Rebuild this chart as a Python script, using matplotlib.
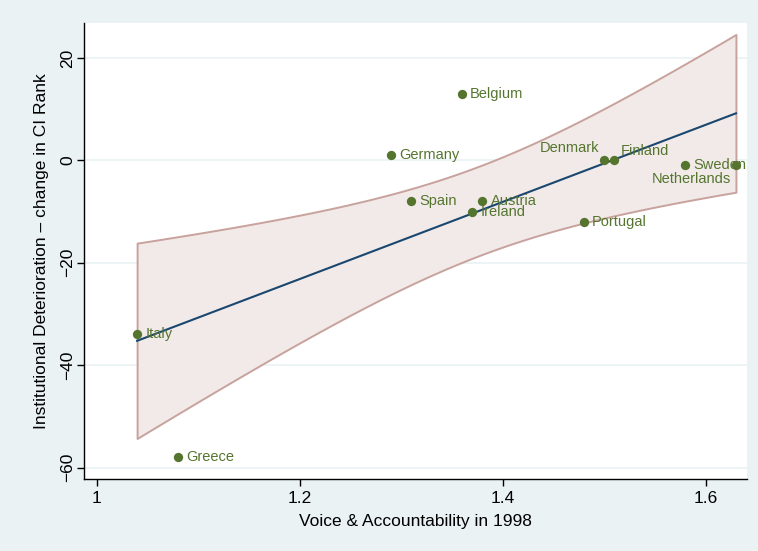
import numpy as np
import matplotlib.pyplot as plt

plt.rcParams['font.family'] = ['Liberation Sans', 'DejaVu Sans']

# Countries, voice & accountability score (1998) and change in CI rank
countries = ["Italy", "Greece", "Germany", "Belgium", "Spain", "Austria",
             "Ireland", "Portugal", "Denmark", "Finland", "Sweden", "Netherlands"]
voice = [1.04, 1.08, 1.29, 1.36, 1.31, 1.38, 1.37, 1.48, 1.50, 1.51, 1.58, 1.63]
rank_change = [-34, -58, 1, 13, -8, -8, -10, -12, 0, 0, -1, -1]
# clock position of each marker label
label_pos = [3, 3, 3, 3, 3, 3, 3, 3, 11, 1, 3, 7]

xticks = [1, 1.2, 1.4, 1.6]
xtick_labels = ["1", "1.2", "1.4", "1.6"]
yticks = [-60, -40, -20, 0, 20]

BG = "#EAF2F3"
NAVY = "#1A476F"
GREEN = "#55752F"
CI_FILL = "#F1EAE8"
CI_EDGE = "#C8A29D"

x = np.asarray(voice, float)
y = np.asarray(rank_change, float)

# linear fit with 95% confidence interval of the mean prediction
n = len(x)
slope, intercept = np.polyfit(x, y, 1)
resid = y - (intercept + slope * x)
s = np.sqrt(np.sum(resid ** 2) / (n - 2))
sxx = np.sum((x - x.mean()) ** 2)
t_crit = 2.228  # t(0.975, df=10)
xs = np.linspace(x.min(), x.max(), 200)
fit = intercept + slope * xs
half = t_crit * s * np.sqrt(1.0 / n + (xs - x.mean()) ** 2 / sxx)

fig = plt.figure(figsize=(7.58, 5.51), dpi=100, facecolor=BG)
ax = fig.add_axes([84 / 758, 1 - 479 / 551, (747 - 84) / 758, (479 - 23) / 551])
ax.set_facecolor("white")

ax.fill_between(xs, fit - half, fit + half, facecolor=CI_FILL,
                edgecolor=CI_EDGE, linewidth=1.4, zorder=2)
ax.plot(xs, fit, color=NAVY, lw=1.5, zorder=3)
ax.scatter(x, y, s=45, color=GREEN, zorder=4, linewidths=0)

offsets = {
    3: ((6, 0), "left", "center"),
    11: ((-3.5, 9), "right", "center"),
    1: ((5, 6.5), "left", "center"),
    7: ((-3.5, -10), "right", "center"),
}
for name, xv, yv, pos in zip(countries, x, y, label_pos):
    (dx, dy), ha, va = offsets[pos]
    ax.annotate(name, (xv, yv), xytext=(dx, dy), textcoords="offset points",
                ha=ha, va=va, color=GREEN, fontsize=10.5, zorder=5,
                annotation_clip=False)

ax.set_xlim(1 - 12.5 / 1015, 1 + (747 - 96.5) / 1015)
ax.set_ylim(-60 - (479 - 467.5) / 5.13, 20 + (58 - 23) / 5.13)

ax.set_xticks(xticks)
ax.set_xticklabels(xtick_labels)
ax.set_yticks(yticks)
ax.yaxis.grid(True, color=BG, lw=1.2)
ax.set_axisbelow(True)

for side in ("top", "right"):
    ax.spines[side].set_visible(False)
for side in ("left", "bottom"):
    ax.spines[side].set_color("black")
    ax.spines[side].set_linewidth(1.0)

ax.tick_params(axis="both", direction="out", length=5, width=1,
               labelsize=12.5, color="black")
ax.tick_params(axis="y", labelrotation=90, pad=1.5)
for lbl in ax.get_yticklabels():
    lbl.set_va("center")

ax.set_xlabel("Voice & Accountability in 1998", fontsize=12.5, labelpad=6)
ax.set_ylabel("Institutional Deterioration \u2013 change in CI Rank",
              fontsize=12.5, labelpad=8)

fig.savefig("out.png", dpi=100, facecolor=BG)
